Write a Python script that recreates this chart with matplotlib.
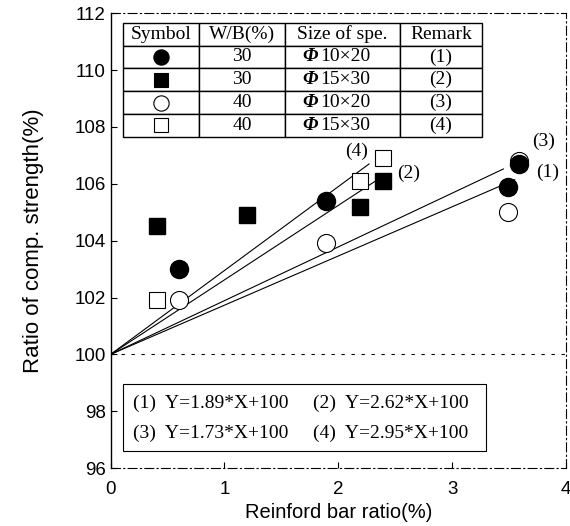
import numpy as np
import matplotlib.pyplot as plt

# data
fc_x = [0.6, 1.89, 3.49, 3.59]          # filled circle, W/B 30, phi10x20
fc_y = [103.0, 105.4, 105.9, 106.7]
fs_x = [0.41, 1.2, 2.19, 2.39]          # filled square, W/B 30, phi15x30
fs_y = [104.5, 104.9, 105.2, 106.1]
oc_x = [0.6, 1.89, 3.49, 3.59]          # open circle, W/B 40, phi10x20
oc_y = [101.9, 103.9, 105.0, 106.8]
os_x = [0.41, 2.19, 2.39]               # open square, W/B 40, phi15x30
os_y = [101.9, 106.1, 106.9]

slopes = [1.89, 2.62, 1.73, 2.95]       # (1) (2) (3) (4)
line_end = [3.45, 2.4, 3.55, 2.27]
tags = ['(1)', '(2)', '(3)', '(4)']
tag_pos = [(3.84, 106.4), (2.62, 106.35), (3.8, 107.5), (2.16, 107.15)]

col_labels = ['Symbol', 'W/B(%)', 'Size of spe.', 'Remark']
wb = ['30', '30', '40', '40']
size_spe = ['10×20', '15×30', '10×20', '15×30']

plt.rcParams['font.family'] = ['Liberation Sans', 'DejaVu Sans']
fig = plt.figure(figsize=(5.7, 5.26), dpi=100)
ax = fig.add_axes([0.194, 0.110, 0.799, 0.865])
ax.set_xlim(0, 4)
ax.set_ylim(96, 112)
ax.set_xticks([0, 1, 2, 3, 4])
ax.set_yticks(np.arange(96, 113, 2))
ax.tick_params(direction='in', length=4, labelsize=13.5, width=0.8)
ax.tick_params(axis='x', pad=9)
ax.set_xlabel('Reinford bar ratio(%)', fontsize=14.5, labelpad=4)
ax.set_ylabel('Ratio of comp. strength(%)', fontsize=16, labelpad=22)
for side in ['top', 'right', 'bottom']:
    ax.spines[side].set_linestyle((0, (8, 3, 1, 3)))
    ax.spines[side].set_linewidth(0.8)
ax.spines['left'].set_linewidth(1.0)

ax.plot([0, 4], [100, 100], color='k', lw=0.8, ls=(0, (3, 6)))

for s, xe in zip(slopes, line_end):
    xs = np.array([0, xe])
    ax.plot(xs, s * xs + 100, color='k', lw=0.8)

ax.plot(os_x, os_y, 's', ms=11, mfc='white', mec='k', mew=0.8, ls='none')
ax.plot(oc_x, oc_y, 'o', ms=13, mfc='white', mec='k', mew=0.8, ls='none')
ax.plot(fs_x, fs_y, 's', ms=11, mfc='k', mec='k', ls='none')
ax.plot(fc_x, fc_y, 'o', ms=13, mfc='k', mec='k', ls='none')

for t, (tx, ty) in zip(tags, tag_pos):
    ax.text(tx, ty, t, family='Liberation Serif', fontsize=14, ha='center', va='center')

# specimen table
cell_text = [[''] + [w, '', '(%d)' % (i + 1)] for i, w in enumerate(wb)]
cw = [0.213, 0.239, 0.320, 0.228]
tb = ax.table(cellText=cell_text, colLabels=col_labels, colWidths=cw,
              bbox=[0.027, 0.728, 0.788, 0.251], cellLoc='center')
tb.auto_set_font_size(False)
for (r, c), cell in tb.get_celld().items():
    cell.set_linewidth(1.0)
    cell.set_facecolor('white')
    cell.get_text().set_fontsize(14)
    cell.get_text().set_fontfamily('Liberation Serif')

x0, w = 0.027, 0.788
sym_x = x0 + w * cw[0] / 2
split_x = 0.4555
row_h = 0.251 / 5
styles = [('o', 'k'), ('s', 'k'), ('o', 'white'), ('s', 'white')]
for i, (m, fc) in enumerate(styles):
    yy = 0.979 - row_h * (i + 1.5)
    ax.plot([sym_x], [yy], m, ms=11 if m == 'o' else 10, mfc=fc, mec='k', mew=0.8,
            transform=ax.transAxes, zorder=5)
    ax.text(split_x, yy, 'Φ', transform=ax.transAxes, ha='right', va='center',
            fontsize=14, family='Liberation Serif', style='italic', weight='bold', zorder=5)
    ax.text(split_x + 0.004, yy, size_spe[i], transform=ax.transAxes, ha='left', va='center',
            fontsize=14, family='Liberation Serif', zorder=5)

# equation box
ax.add_patch(plt.Rectangle((0.028, 0.038), 0.796, 0.147, transform=ax.transAxes,
                           fill=True, fc='white', ec='k', lw=0.8, zorder=4))
eqs = ['(1)  Y=1.89*X+100', '(2)  Y=2.62*X+100', '(3)  Y=1.73*X+100', '(4)  Y=2.95*X+100']
eq_pos = [(0.049, 0.143), (0.445, 0.143), (0.049, 0.077), (0.445, 0.077)]
for e, (ex, ey) in zip(eqs, eq_pos):
    ax.text(ex, ey, e, transform=ax.transAxes, family='Liberation Serif', fontsize=14,
            va='center', zorder=5)

fig.savefig('out.png', dpi=100)
